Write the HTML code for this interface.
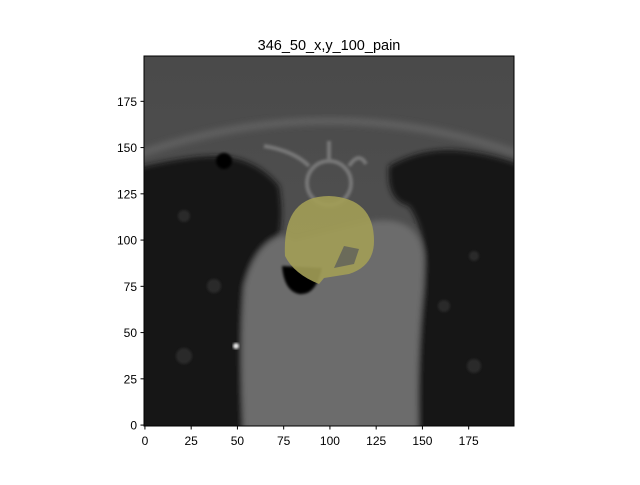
<!DOCTYPE html>
<html><head><meta charset="utf-8"><style>
body{margin:0;background:#fff;width:640px;height:480px;overflow:hidden;font-family:"Liberation Sans","DejaVu Sans",sans-serif}
</style></head><body>
<svg width="640" height="480" viewBox="0 0 640 480" xmlns="http://www.w3.org/2000/svg">
<defs>
<clipPath id="c"><rect x="144" y="56" width="370" height="370"/></clipPath>
<filter id="b" x="-20%" y="-20%" width="140%" height="140%"><feGaussianBlur stdDeviation="3"/></filter>
<filter id="b2"><feGaussianBlur stdDeviation="1.2"/></filter>
<linearGradient id="tg" x1="0" y1="0" x2="0" y2="1"><stop offset="0" stop-color="#4a4a4a"/><stop offset="1" stop-color="#545454"/></linearGradient>
</defs>
<text x="329" y="50" text-anchor="middle" font-size="14.5" fill="#000">346_50_x,y_100_pain</text>
<g clip-path="url(#c)">
<g transform="translate(144,56)">
<rect x="0" y="0" width="370" height="370" fill="url(#tg)"/>
<path d="M-10,100 Q185,30 380,100" stroke="#5e5e5e" stroke-width="8" fill="none" filter="url(#b)"/>
<g filter="url(#b)">
<path d="M100,190 Q130,170 150,185 L230,165 Q275,160 280,200 L275,390 L100,390 Q90,300 100,190Z" fill="#6c6c6c"/>
<path d="M-20,115 Q40,100 70,100 Q110,100 135,130 Q140,160 135,180 Q110,190 100,230 Q95,290 100,390 L-20,390Z" fill="#181818"/>
<path d="M245,110 Q280,90 320,95 Q360,100 390,115 L390,390 L275,390 Q272,300 280,230 Q285,180 265,150 Q242,145 245,110Z" fill="#191919"/>
</g>
<g fill="#2c2c2c" filter="url(#b2)">
<circle cx="40" cy="160" r="6"/><circle cx="70" cy="230" r="7"/><circle cx="300" cy="250" r="6"/><circle cx="330" cy="200" r="5"/><circle cx="40" cy="300" r="8"/><circle cx="330" cy="310" r="7"/>
</g>
<g fill="none" stroke="#777" stroke-width="4" filter="url(#b2)">
<circle cx="185" cy="127" r="22"/>
<path d="M120,90 Q150,95 165,110 M205,110 Q215,95 222,108 M185,85 L185,105"/>
</g>
<circle cx="80" cy="105" r="8" fill="#050505" filter="url(#b2)"/>
<circle cx="92" cy="290" r="3" fill="#eee" filter="url(#b2)"/>
<path d="M138,210 L178,212 Q172,240 155,238 Q140,235 138,210Z" fill="#050505" filter="url(#b2)"/>
<path d="M185,140 Q230,142 230,185 Q230,210 205,218 L180,222 L175,228 Q150,218 141,200 Q138,140 185,140Z" fill="#a39f57" opacity="0.9"/>
<path d="M200,190 L215,193 L210,208 L190,212Z" fill="#6b6b5a"/>
</g>
</g>
<rect x="144" y="56" width="370" height="370" fill="none" stroke="#000" stroke-width="1"/>
<g id="ticks" font-size="12" fill="#000"></g>
<script>
const xTicks=[0,25,50,75,100,125,150,175];
const yTicks=[0,25,50,75,100,125,150,175];
const x=v=>144+(v+0.5)*1.85, y=v=>426-(v+0.5)*1.85;
const g=document.getElementById('ticks'),NS='http://www.w3.org/2000/svg';
xTicks.forEach(v=>{
 const l=document.createElementNS(NS,'line');
 
 
 l.setAttribute('x1',x(v));l.setAttribute('x2',x(v));l.setAttribute('y1',426);l.setAttribute('y2',429.5);l.setAttribute('stroke','#000');g.appendChild(l);
 const t=document.createElementNS(NS,'text');
 
 
 t.setAttribute('x',x(v));t.setAttribute('y',445);t.setAttribute('text-anchor','middle');t.textContent=v;g.appendChild(t);
});
yTicks.forEach(v=>{
 const l=document.createElementNS(NS,'line');
 
 
 l.setAttribute('x1',140.5);l.setAttribute('x2',144);l.setAttribute('y1',y(v));l.setAttribute('y2',y(v));l.setAttribute('stroke','#000');g.appendChild(l);
 const t=document.createElementNS(NS,'text');
 
 
 t.setAttribute('x',137);t.setAttribute('y',y(v)+4.5);t.setAttribute('text-anchor','end');t.textContent=v;g.appendChild(t);
});
</script>
</svg>
</body></html>
